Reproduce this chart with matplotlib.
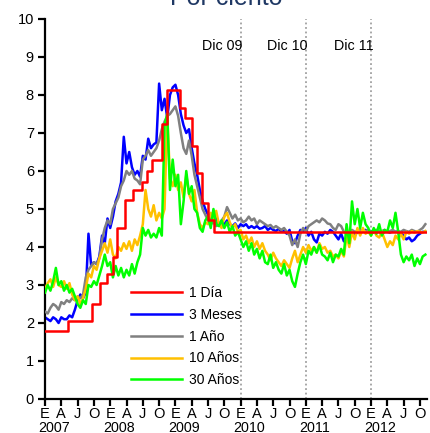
import numpy as np
import matplotlib
matplotlib.use("Agg")
import matplotlib.pyplot as plt

plt.rcParams['font.family'] = ['Liberation Sans', 'DejaVu Sans']

# months since January 2007 (half-month sampling)
months = np.arange(0, 70.5, 0.5)

tres_meses = [2.15, 2.1, 2.05, 2.15, 2.1, 2.0, 2.15, 2.1, 2.1, 2.2,
              2.15, 2.35, 2.6, 2.75, 2.65, 2.8, 4.35, 3.5, 3.6, 3.55,
              3.75, 4.3, 4.1, 4.75, 4.5, 4.8, 5.2, 5.4, 5.7, 6.9,
              6.2, 6.5, 6.1, 5.9, 6.0, 5.85, 6.4, 6.3, 6.85, 6.6,
              6.7, 6.75, 8.3, 7.6, 7.9, 7.4, 8.0, 8.2, 8.27, 8.0,
              7.5, 7.2, 7.0, 7.1, 6.6, 6.2, 5.9, 5.5, 5.2, 5.0,
              4.85, 4.75, 4.65, 4.75, 4.6, 4.55, 4.6, 4.7, 4.6, 4.55,
              4.62, 4.5, 4.6, 4.55, 4.6, 4.5, 4.55, 4.5, 4.55, 4.48,
              4.5, 4.55, 4.45, 4.5, 4.45, 4.42, 4.48, 4.4, 4.42, 4.35,
              4.45, 4.15, 4.1, 4.3, 4.45, 4.4, 4.5, 4.3, 4.4, 4.2,
              4.12, 4.35, 4.3, 4.4, 4.35, 4.45, 4.4, 4.3, 4.2, 4.35,
              4.15, 4.25, 4.35, 4.4, 4.3, 4.4, 4.45, 4.4, 4.45, 4.4,
              4.42, 4.38, 4.42, 4.4, 4.35, 4.4, 4.4, 4.38, 4.42, 4.4,
              4.4, 4.35, 4.3, 4.2, 4.25, 4.15, 4.2, 4.3, 4.35, 4.4,
              4.4]

un_anio = [2.3, 2.25, 2.4, 2.5, 2.45, 2.35, 2.55, 2.5, 2.6, 2.55,
           2.65, 2.6, 2.7, 2.65, 2.75, 3.2, 3.4, 3.5, 3.6, 3.55,
           3.7, 4.2, 4.5, 4.7, 4.6, 5.0, 5.15, 5.3, 5.6, 5.75,
           6.0, 5.9, 6.0, 5.8, 5.75, 5.65, 6.3, 6.4, 6.55, 6.4,
           6.5, 6.6, 6.8, 7.1, 7.3, 7.45, 7.5, 7.6, 7.7, 7.45,
           7.0, 6.6, 6.45, 6.8, 6.4, 5.9, 5.6, 5.3, 5.0, 4.85,
           4.7, 4.6, 4.65, 4.55, 4.6, 4.7, 4.8, 5.05, 4.9, 4.75,
           4.85, 4.7, 4.75, 4.65, 4.7, 4.8, 4.7, 4.75, 4.6, 4.7,
           4.65, 4.6, 4.55, 4.58, 4.5, 4.55, 4.5, 4.45, 4.5, 4.4,
           4.3, 4.05, 4.2, 4.0, 4.35, 4.5, 4.4, 4.55, 4.6, 4.65,
           4.7, 4.65, 4.75, 4.7, 4.62, 4.6, 4.5, 4.45, 4.6, 4.55,
           4.4, 4.35, 4.4, 4.45, 4.4, 4.42, 4.45, 4.4, 4.42, 4.45,
           4.4, 4.42, 4.45, 4.4, 4.42, 4.45, 4.4, 4.42, 4.45, 4.4,
           4.42, 4.4, 4.45, 4.42, 4.4, 4.45, 4.42, 4.4, 4.45, 4.5,
           4.6]

diez_anios = [2.9, 3.05, 3.15, 2.95, 3.2, 3.0, 2.95, 3.1, 2.9, 3.05,
              2.75, 2.6, 2.7, 2.5, 2.65, 2.9, 3.3, 3.2, 3.5, 3.4,
              3.7, 3.9, 4.1, 3.85, 4.2, 3.8, 3.7, 4.0, 3.9, 4.1,
              3.95, 4.15, 3.9, 4.2, 4.05, 4.3, 4.6, 5.5, 5.0, 4.8,
              5.1, 4.7, 4.9, 4.75, 5.0, 7.5, 5.8, 5.6, 5.9, 5.5,
              5.7, 5.3, 5.9, 5.4, 5.2, 5.5, 4.9, 4.6, 4.5, 4.65,
              4.6, 4.9, 4.7, 4.95, 4.6, 4.5, 4.8, 4.9, 4.65, 4.5,
              4.6, 4.4, 4.45, 4.2, 4.3, 4.1, 4.25, 4.0, 4.15, 3.95,
              4.1, 3.9, 3.8, 3.65, 3.85, 3.7, 3.6, 3.5, 3.65, 3.55,
              3.45, 3.7, 3.9, 3.6, 3.8, 4.0, 3.85, 4.05, 3.9, 4.0,
              3.85, 4.1, 3.95, 4.0, 3.85, 3.9, 3.75, 3.8, 3.7, 3.9,
              3.75, 4.3, 4.0, 4.4, 4.2, 4.5, 4.3, 4.5, 4.35, 4.4,
              4.3, 4.45, 4.3, 4.25, 4.4, 4.2, 4.0, 4.15, 4.05, 4.3,
              4.2, 4.35, 4.2, 4.4, 4.35, 4.42, 4.38, 4.42, 4.4, 4.38,
              4.42]

treinta_anios = [2.8, 3.0, 2.85, 3.1, 3.45, 3.0, 3.1, 2.85, 3.0, 2.8,
                 2.9, 2.7, 2.5, 2.4, 2.6, 2.5, 3.0, 2.95, 3.1, 3.0,
                 3.25, 3.5, 3.8, 3.5, 3.6, 3.2, 3.5, 3.25, 3.45, 3.2,
                 3.4, 3.25, 3.55, 3.3, 3.6, 3.8, 4.5, 4.3, 4.45, 4.25,
                 4.35, 4.25, 4.5, 4.3, 7.2, 7.5, 5.5, 6.3, 5.6, 5.9,
                 4.6, 5.2, 6.0, 5.4, 5.6, 5.0, 4.9, 4.5, 4.4, 4.7,
                 4.8, 4.5, 5.0, 4.6, 4.55, 4.7, 4.5, 4.65, 4.4, 4.55,
                 4.3, 4.4, 4.2, 4.0, 4.15, 3.9, 4.1, 3.8, 3.95, 3.7,
                 3.9, 3.6, 3.55, 3.8, 3.45, 3.6, 3.4, 3.3, 3.55, 3.25,
                 3.4, 3.1, 2.95, 3.3, 3.6, 3.8, 3.55, 3.9, 3.8, 4.0,
                 3.85, 4.05, 3.8, 3.75, 3.65, 3.85, 3.6, 3.8, 3.75, 3.95,
                 3.8, 4.6, 4.1, 5.2, 4.6, 5.0, 4.5, 4.9, 4.6, 4.5,
                 4.3, 4.5, 4.35, 4.6, 4.3, 4.45, 4.4, 4.7, 4.5, 4.9,
                 4.4, 3.8, 3.6, 3.75, 3.65, 3.8, 3.5, 3.7, 3.55, 3.75,
                 3.8]

# overnight rate (step series): month where each level starts
un_dia_meses = [0, 4.2, 8.7, 10.1, 11.4, 12.5, 13.3, 14.7, 16.2, 17.9,
                18.8, 19.7, 21.5, 22.5, 24.8, 25.8, 27.1, 28.0, 28.9, 30.0,
                31.1, 70.3]
un_dia = [1.8, 2.05, 2.5, 3.05, 3.3, 3.74, 4.5, 5.24, 5.5, 5.7,
          6.0, 6.3, 7.25, 8.13, 7.65, 7.4, 6.65, 5.95, 5.15, 4.7,
          4.4, 4.4]

series_labels = ['1 Día', '3 Meses', '1 Año', '10 Años', '30 Años']
series_colors = ['#FF0000', '#0000FF', '#808080', '#FFC000', '#00FF00']

marker_months = [36, 48, 60]
marker_labels = ['Dic 09', 'Dic 10', 'Dic 11']

quarter_labels = ['E', 'A', 'J', 'O']
years = ['2007', '2008', '2009', '2010', '2011', '2012']

fig = plt.figure(figsize=(4.31, 4.33), dpi=100)
ax = fig.add_axes([45 / 431, 34 / 433, 382 / 431, 380 / 433])

lw = 1.8
h_blue, = ax.plot(months, tres_meses, color=series_colors[1], lw=lw, zorder=2)
h_gray, = ax.plot(months, un_anio, color=series_colors[2], lw=lw, zorder=3)
h_orng, = ax.plot(months, diez_anios, color=series_colors[3], lw=lw, zorder=4)
h_gren, = ax.plot(months, treinta_anios, color=series_colors[4], lw=lw, zorder=5)
h_red, = ax.plot(un_dia_meses, un_dia, color=series_colors[0], lw=lw,
                 drawstyle='steps-post', zorder=6)

for m, lab in zip(marker_months, marker_labels):
    ax.axvline(m, color='#A0A0A0', lw=1.3, ls=(0, (1, 1.5)), zorder=1)
    ax.text(m + 0.4, 9.3, lab, ha='right', va='center', fontsize=10.3)

ax.set_xlim(0, 70.3)
ax.set_ylim(0, 10)
ax.set_yticks(range(0, 11))
tick_pos = list(range(0, 71, 3))
ax.set_xticks(tick_pos)
ax.set_xticklabels([quarter_labels[(p // 3) % 4] for p in tick_pos])
for i, y in enumerate(years):
    ax.text(12 * i + 1.6, -32.5 / 380, y, transform=ax.get_xaxis_transform(),
            ha='center', va='baseline', fontsize=10.3)

for s in ['top', 'right']:
    ax.spines[s].set_visible(False)
for s in ['left', 'bottom']:
    ax.spines[s].set_linewidth(1.6)
ax.tick_params(axis='both', direction='out', length=5, width=1.6,
               labelsize=10.5, colors='black')
ax.tick_params(axis='x', pad=1)
ax.tick_params(axis='y', pad=3)

leg = ax.legend([h_red, h_blue, h_gray, h_orng, h_gren], series_labels,
                loc='upper left', bbox_to_anchor=(0.225, 0.297),
                frameon=False, fontsize=10, handlelength=3.7,
                handletextpad=0.45, labelspacing=0.56, borderpad=0,
                borderaxespad=0)

fig.text(0.524, 1 - 5 / 433, 'Por ciento', ha='center', va='baseline',
         fontsize=18, color='#1F3864')

fig.savefig('out.png', dpi=100)
